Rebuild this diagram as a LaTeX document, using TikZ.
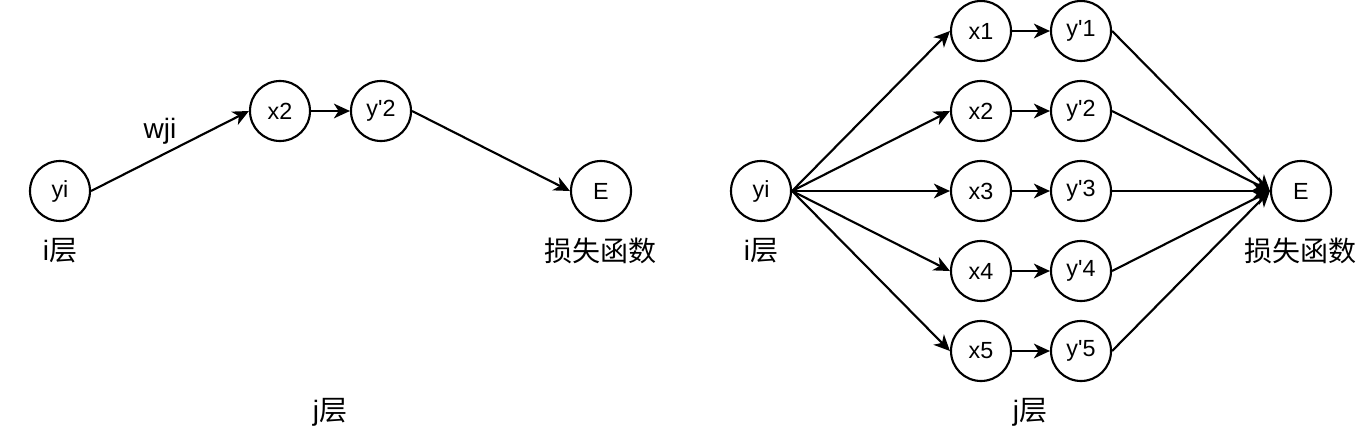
\documentclass[tikz,border=0pt]{standalone}
\usepackage{fontspec}
\setmainfont{Liberation Sans}
\newfontfamily\cjk{Noto Sans CJK SC}
\usetikzlibrary{arrows.meta}
\newcommand\yprime[1]{y\textquotesingle#1}
\tikzset{
  neuron/.style={circle,draw,line width=1.6pt,minimum size=45pt,inner sep=0pt,
    font=\fontsize{17.5}{19}\selectfont},
  layerlabel/.style={font=\fontsize{21}{24}\selectfont},
  link/.style={line width=1.6pt,-{Stealth[length=12pt,width=11pt,inset=3.5pt]}},
  plainlink/.style={line width=1.6pt}
}
\begin{document}
\begin{tikzpicture}[x=0.75pt,y=-0.75pt]
\useasboundingbox (0,0) rectangle (1362,442);

\node[neuron] (yiL) at (60,191) {yi};
\node[neuron] (x2L) at (280,111) {x2};
\node[neuron] (yp2L) at (381,111) {\yprime{2}};
\node[neuron] (EL) at (601,191) {E};
\node[layerlabel] (wji) at (160,131) {wji};
\node[layerlabel] (iL) at (60,251) {i{\cjk 层}};
\node[layerlabel] (lossL) at (600,251) {\cjk 损失函数};
\node[layerlabel] (jL) at (330,412) {j{\cjk 层}};

\draw[link] (yiL.east) -- (x2L.west);
\draw[link] (x2L) -- (yp2L);
\draw[link] (yp2L.east) -- (EL.west);

\node[neuron] (yiR) at (761,191) {yi};
\node[neuron] (ER) at (1301,191) {E};
\node[layerlabel] (iR) at (761,251) {i{\cjk 层}};
\node[layerlabel] (lossR) at (1300,251) {\cjk 损失函数};
\node[layerlabel] (jR) at (1030,412) {j{\cjk 层}};

\foreach \k in {1,...,5} {
  \pgfmathsetmacro\rowy{-49+80*\k}
  \node[neuron] (x\k) at (981,\rowy) {x\k};
  \node[neuron] (yp\k) at (1081,\rowy) {\yprime{\k}};
  \draw[link] (yiR.east) -- (x\k.west);
  \draw[link] (x\k) -- (yp\k);
  \draw[link] (yp\k.east) -- (ER.west);
}
\end{tikzpicture}
\end{document}
